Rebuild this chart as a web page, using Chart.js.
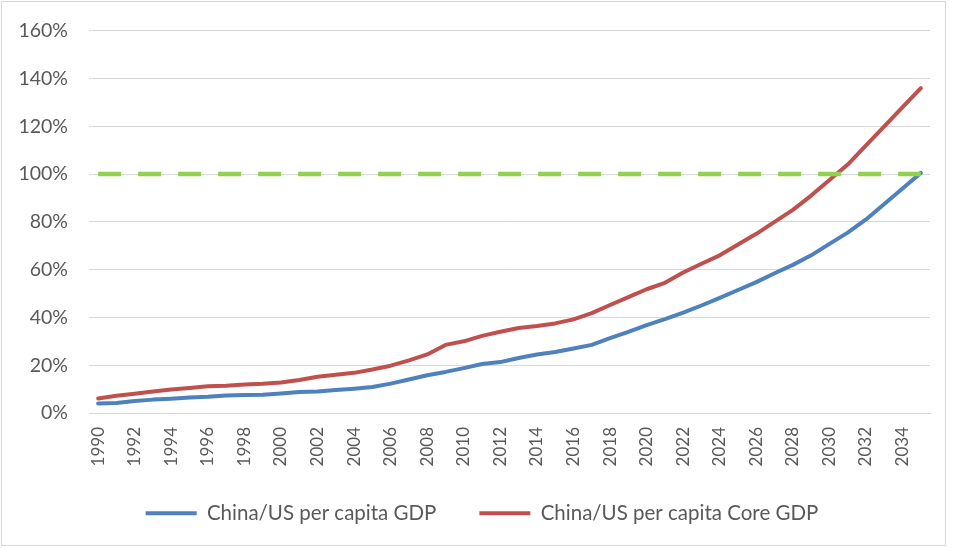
<!DOCTYPE html>
<html>
<head>
<meta charset="utf-8">
<script src="https://cdn.jsdelivr.net/npm/chart.js@4/dist/chart.umd.min.js"></script>
<style>
  html, body { margin: 0; padding: 0; background: #ffffff; }
  #wrap { position: relative; width: 956px; height: 548px; }
  #frame { position: absolute; left: 1px; top: 1px; width: 945px; height: 545px;
           box-sizing: border-box; border: 1px solid #d9d9d9; pointer-events: none; }
  canvas { position: absolute; left: 0; top: 0; }
</style>
</head>
<body>
<div id="wrap">
  <canvas id="chart" width="956" height="548"></canvas>
  <div id="frame"></div>
</div>
<script>
// Years on the category axis
const years = [
  '1990','1991','1992','1993','1994','1995','1996','1997','1998','1999',
  '2000','2001','2002','2003','2004','2005','2006','2007','2008','2009',
  '2010','2011','2012','2013','2014','2015','2016','2017','2018','2019',
  '2020','2021','2022','2023','2024','2025','2026','2027','2028','2029',
  '2030','2031','2032','2033','2034','2035'
];

// China per capita GDP as a percentage of the US level
const gdpRatio = [
  4.0, 4.2, 5.0, 5.6, 6.0, 6.5, 6.8, 7.3, 7.5, 7.6,
  8.2, 8.8, 9.0, 9.6, 10.2, 10.9, 12.3, 14.0, 15.8, 17.2,
  18.8, 20.5, 21.3, 23.0, 24.5, 25.5, 27.0, 28.5, 31.3, 34.0,
  36.8, 39.3, 42.0, 45.0, 48.2, 51.5, 54.8, 58.5, 62.0, 66.0,
  70.8, 75.5, 81.0, 87.5, 94.0, 100.5
];

// China per capita core GDP as a percentage of the US level
const coreGdpRatio = [
  6.1, 7.2, 8.1, 9.0, 9.8, 10.5, 11.2, 11.4, 11.9, 12.2,
  12.8, 13.8, 15.2, 16.0, 16.8, 18.2, 19.8, 22.0, 24.5, 28.5,
  30.0, 32.3, 34.0, 35.6, 36.4, 37.5, 39.2, 41.8, 45.2, 48.5,
  51.8, 54.5, 58.8, 62.5, 66.0, 70.5, 75.0, 80.0, 85.0, 91.0,
  97.5, 104.0, 112.0, 120.0, 128.0, 136.0
];

// Parity reference (US = 100%)
const parity = [
  100, 100, 100, 100, 100, 100, 100, 100, 100, 100,
  100, 100, 100, 100, 100, 100, 100, 100, 100, 100,
  100, 100, 100, 100, 100, 100, 100, 100, 100, 100,
  100, 100, 100, 100, 100, 100, 100, 100, 100, 100,
  100, 100, 100, 100, 100, 100
];

// Value axis ticks
const yMin = 0;
const yMax = 160;
const yStep = 20;

const seriesNames = ['China/US per capita GDP', 'China/US per capita Core GDP'];

const FONT = 'Lato';
const TEXT = '#595959';
const GRID = '#d9d9d9';

// Pull the legend row up closer to the rotated year labels
const legendLift = {
  id: 'legendLift',
  afterLayout(chart) {
    const lg = chart.legend;
    if (lg) { lg.top -= 13; lg.bottom -= 13; }
  }
};

new Chart(document.getElementById('chart'), {
  type: 'line',
  plugins: [legendLift],
  data: {
    labels: years,
    datasets: [
      {
        label: seriesNames[0],
        data: gdpRatio,
        borderColor: '#4f81bd',
        backgroundColor: '#4f81bd',
        borderWidth: 4,
        borderCapStyle: 'round',
        borderJoinStyle: 'round',
        pointRadius: 0,
        tension: 0,
        order: 1
      },
      {
        label: seriesNames[1],
        data: coreGdpRatio,
        borderColor: '#c0504d',
        backgroundColor: '#c0504d',
        borderWidth: 4,
        borderCapStyle: 'round',
        borderJoinStyle: 'round',
        pointRadius: 0,
        tension: 0,
        order: 1
      },
      {
        label: 'parity',
        data: parity,
        borderColor: '#92d050',
        backgroundColor: '#92d050',
        borderWidth: 4.5,
        borderDash: [23, 17],
        pointRadius: 0,
        tension: 0,
        order: 0
      }
    ]
  },
  options: {
    responsive: false,
    animation: false,
    devicePixelRatio: 1,
    layout: { padding: { top: 28, right: 0, bottom: 1.5, left: 8 } },
    plugins: {
      tooltip: { enabled: false },
      legend: {
        display: true,
        position: 'bottom',
        labels: {
          font: { family: FONT, size: 20.5 },
          color: TEXT,
          usePointStyle: true,
          pointStyleWidth: 51,
          padding: 43,
          generateLabels(chart) {
            const items = Chart.defaults.plugins.legend.labels.generateLabels(chart);
            return items
              .filter(it => it.datasetIndex < 2)
              .map(it => Object.assign(it, { pointStyle: 'line', lineWidth: 4, lineCap: 'butt' }));
          }
        }
      }
    },
    scales: {
      x: {
        type: 'category',
        offset: true,
        grid: { display: false, drawTicks: false },
        border: { display: true, color: GRID, width: 1 },
        afterFit(scale) { scale.height = 60; },
        ticks: {
          autoSkip: false,
          maxRotation: 90,
          minRotation: 90,
          padding: 14,
          color: TEXT,
          font: { family: FONT, size: 17 },
          callback(value, index) { return index % 2 === 0 ? years[index] : ''; }
        }
      },
      y: {
        min: yMin,
        max: yMax,
        grid: { color: GRID, lineWidth: 1, drawTicks: false },
        border: { display: false },
        afterFit(scale) { scale.width = 81; },
        ticks: {
          stepSize: yStep,
          padding: 21,
          color: TEXT,
          font: { family: FONT, size: 19.5, lineHeight: 1 },
          callback(value) { return value + '%'; }
        }
      },
      // empty right-hand margin beside the plot
      yRight: {
        position: 'right',
        display: true,
        grid: { display: false, drawTicks: false },
        border: { display: false },
        ticks: { display: false },
        afterFit(scale) { scale.width = 26; }
      }
    }
  }
});
</script>
</body>
</html>
